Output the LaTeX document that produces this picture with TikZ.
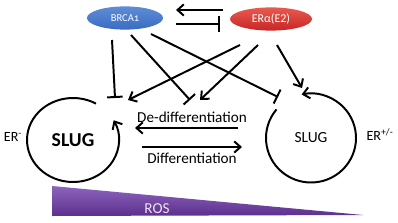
\documentclass[tikz,border=0pt]{standalone}
\usepackage{fontspec}
\setmainfont{Carlito}
\usepackage{tikz}
\usetikzlibrary{shapes.geometric, arrows.meta, positioning, calc}
\definecolor{brcablue}{RGB}{58,108,192}
\definecolor{brcatop}{RGB}{95,140,215}
\definecolor{erred}{RGB}{200,38,36}
\definecolor{ertop}{RGB}{232,90,80}
\definecolor{rostop}{RGB}{140,100,190}
\definecolor{rosbot}{RGB}{92,48,140}

\begin{document}
\begin{tikzpicture}[x=0.025cm, y=0.025cm,
    gene/.style={ellipse, text=white, minimum width=1.9cm, minimum height=0.58cm, inner sep=0pt},
    act/.style={line width=1.4pt, -{Straight Barb[length=4.5pt, width=8pt]}},
    inh/.style={line width=1.4pt, -{Bar[width=11pt]}},
    loopline/.style={line width=1.4pt}]
                \useasboundingbox (0,0) rectangle (398,-222);
                \node[gene, top color=brcatop, bottom color=brcablue, font=\fontsize{7.5}{9}\selectfont] (brca) at (125,-18) {BRCA{\addfontfeature{Numbers=OldStyle}1}};
                \node[gene, top color=ertop, bottom color=erred, minimum width=2.05cm, font=\fontsize{8.5}{10}\selectfont] (er) at (271,-19) {ERα(E2)};
                \node[font=\fontsize{14}{16}\selectfont\bfseries] (slugL) at (73,-140) {SLUG};
                \node[font=\fontsize{11}{13}\selectfont] (slugR) at (311,-138) {SLUG};
                \node[font=\fontsize{10}{12}\selectfont] (erL) at (13,-137) {ER\textsuperscript{-}};
                \node[font=\fontsize{10}{12}\selectfont] (erR) at (380,-135) {ER\textsuperscript{+/-}};
                \node[font=\fontsize{10.8}{13}\selectfont] (dediff) at (192,-117) {De-differentiation};
                \node[font=\fontsize{10.8}{13}\selectfont] (diff) at (192,-158) {Differentiation};

                \coordinate (t1a) at (223,-10); \coordinate (t1b) at (176,-10);
                \coordinate (t2a) at (176,-24); \coordinate (t2b) at (220,-24);
                \coordinate (b1) at (112,-40); \coordinate (b2) at (131,-35); \coordinate (b3) at (151,-34);
                \coordinate (e1) at (240,-45); \coordinate (e2) at (258,-45); \coordinate (e3) at (277,-45);
                \coordinate (hL) at (115,-98); \coordinate (hM) at (190,-100); \coordinate (hR) at (278,-97);
                \coordinate (aL) at (128,-100); \coordinate (aM) at (200,-100); \coordinate (aR) at (302,-88);
                \coordinate (dd1) at (238,-128); \coordinate (dd2) at (135,-128);
                \coordinate (df1) at (142,-147); \coordinate (df2) at (242,-147);

                \draw[act] (t1a) -- (t1b);
                \draw[inh] (t2a) -- (t2b);
                \draw[inh] (b1) -- (hL);
                \draw[inh] (b2) -- (hM);
                \draw[inh] (b3) -- (hR);
                \draw[act] (e1) -- (aL);
                \draw[act] (e2) -- (aM);
                \draw[act] (e3) -- (aR);
                \draw[act] (dd1) -- (dd2);
                \draw[act] (df1) -- (df2);

                \draw[loopline, -{Straight Barb[length=4.5pt, width=8pt]}] ($(slugL.center)+(60:46 and 42)$) arc[start angle=60, end angle=388, x radius=46, y radius=42];
                \draw[loopline, -{Straight Barb[length=4.5pt, width=8pt]}] ($(slugR.center)+(140:45 and 44.5)$) arc[start angle=140, end angle=462, x radius=45, y radius=44.5];

                \shade[top color=rostop, bottom color=rosbot] (52,-186) -- (52,-216) -- (363,-215) -- cycle;
                \node[font=\fontsize{10.8}{13}\selectfont, text=white!88!violet] (ros) at (157,-209) {ROS};
            \end{tikzpicture}
\end{document}
